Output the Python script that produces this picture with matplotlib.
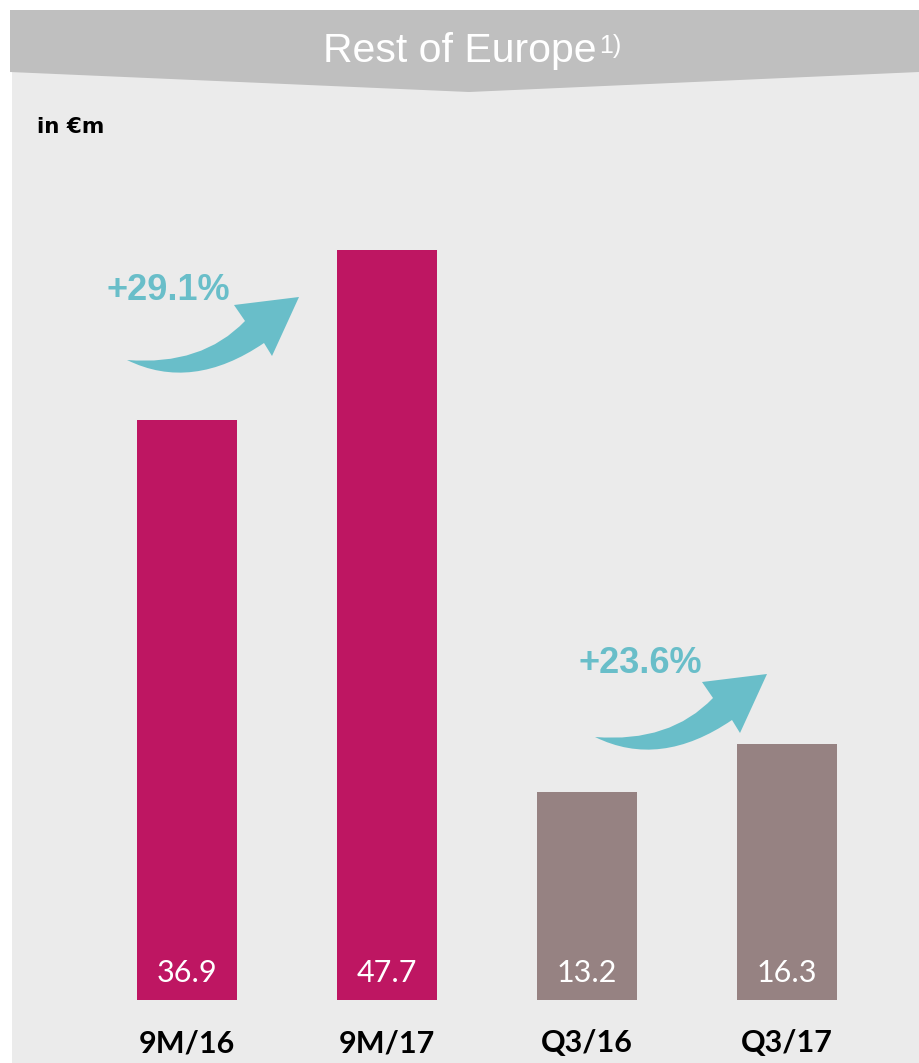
import matplotlib
matplotlib.use("Agg")
import matplotlib.pyplot as plt
from matplotlib.patches import Polygon, PathPatch, Rectangle
from matplotlib.path import Path
from matplotlib.transforms import Affine2D

# values in EUR m
periods = ["9M/16", "9M/17", "Q3/16", "Q3/17"]
revenue = [36.9, 47.7, 13.2, 16.3]
growth_labels = ["+29.1%", "+23.6%"]

MAGENTA = "#BE1662"
TAUPE = "#968282"
TEAL = "#69BEC9"
PANEL = "#EBEBEB"
HEADER = "#BFBFBF"
bar_colors = [MAGENTA, MAGENTA, TAUPE, TAUPE]

W, H = 919, 1063
fig = plt.figure(figsize=(W / 100, H / 100), dpi=100, facecolor="white")

# pixel coordinates measured from the top-left corner
px = Affine2D().scale(1 / W, -1 / H).translate(0, 1) + fig.transFigure

fig.patches.append(Rectangle((12, 10), W - 12, H - 10, transform=px,
                             facecolor=PANEL, edgecolor="none", zorder=-2))
fig.patches.append(Polygon([(10, 10), (W, 10), (W, 72), (469, 92), (10, 72)],
                           closed=True, transform=px, facecolor=HEADER,
                           edgecolor="none", zorder=-1))

fig.text(597, 62, "Rest of Europe", transform=px, ha="right", va="baseline",
         color="white", fontsize=29.5, family="Liberation Sans")
fig.text(599, 53, "1)", transform=px, ha="left", va="baseline",
         color="white", fontsize=18, family="Liberation Sans")
fig.text(37, 133, "in €m", transform=px, ha="left", va="baseline",
         color="black", fontsize=15.5, fontweight="bold", family="DejaVu Sans")

# bar axes: baseline at 1000 px from top, 15.72 px per EUR m, 200 px pitch
base_px, per_unit = 1000, 15.72
ax = fig.add_axes([0, 0, 1, 1], facecolor="none")
ax.set_xlim(-187 / 200, (W - 187) / 200)
ax.set_ylim(-(H - base_px) / per_unit, base_px / per_unit)
ax.axis("off")

xs = range(len(periods))
ax.bar(xs, revenue, width=0.5, color=bar_colors, zorder=2)
for i, (p, v) in enumerate(zip(periods, revenue)):
    ax.annotate(f"{v:.1f}", xy=(i, 0), xytext=(0, 18 * 0.72),
                textcoords="offset points", ha="center", va="baseline",
                color="white", fontsize=22, family="Lato")
    ax.annotate(p, xy=(i, 0), xytext=(0, -52 * 0.72),
                textcoords="offset points", ha="center", va="baseline",
                color="black", fontsize=22, fontweight="bold", family="Lato")


def growth_arrow(tail_x, tail_y):
    # curved, tapered arrow drawn in local pixel offsets from its tail
    verts = [(0, 0), (75, 6), (118, -39), (107, -55), (172, -63),
             (145, -4), (137, -17), (65, 32), (0, 0), (0, 0)]
    codes = [Path.MOVETO, Path.CURVE3, Path.CURVE3, Path.LINETO, Path.LINETO,
             Path.LINETO, Path.LINETO, Path.CURVE3, Path.CURVE3, Path.CLOSEPOLY]
    tr = Affine2D().translate(tail_x, tail_y) + px
    fig.patches.append(PathPatch(Path(verts, codes), transform=tr,
                                 facecolor=TEAL, edgecolor="none", zorder=3))


growth_arrow(127, 360)
growth_arrow(595, 737)
fig.text(168, 300, growth_labels[0], transform=px, ha="center", va="baseline",
         color=TEAL, fontsize=26, fontweight="bold", family="Liberation Sans")
fig.text(640, 673, growth_labels[1], transform=px, ha="center", va="baseline",
         color=TEAL, fontsize=26, fontweight="bold", family="Liberation Sans")

fig.savefig("out.png", dpi=100, facecolor=fig.get_facecolor())
